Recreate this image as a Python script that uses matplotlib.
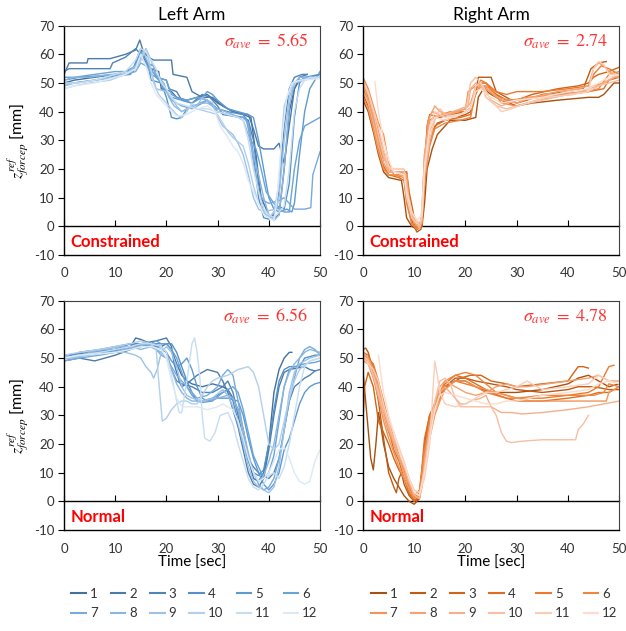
import matplotlib
matplotlib.use("Agg")
import matplotlib.pyplot as plt
from matplotlib.lines import Line2D

plt.rcParams["font.family"] = ["Lato", "DejaVu Sans"]
plt.rcParams["mathtext.fontset"] = "stix"
plt.rcParams["axes.unicode_minus"] = False

# ---------------------------------------------------------------
# data: (time [s], z_ref_forcep [mm])
# ---------------------------------------------------------------
trial_labels = [str(i) for i in range(1, 13)]

left_constrained = [
    [(0, 50), (2, 51), (6, 52), (10, 53), (12, 53), (13.5, 54), (14.5, 60), (15, 62), (16, 57), (17, 55), (18.5, 54), (19, 48), (21, 47), (22, 45), (24, 44), (26, 45), (28, 46), (30, 43), (33, 40), (35, 39), (36.5, 38), (37.5, 25), (38.5, 10), (40, 4), (41, 3), (42, 4), (43, 20), (44, 40), (45, 48), (46, 51), (48, 52), (50, 53)],
    [(0, 53), (1, 57), (4.5, 57), (4.7, 58.5), (9, 58.5), (12, 60), (14, 61.5), (14.8, 65), (15.5, 61), (16.5, 59), (17.5, 58), (21, 58), (21.3, 53), (24, 52), (25, 47), (27, 45), (29, 45), (31, 42), (33, 40), (36, 39), (37, 34), (38, 28), (39, 27), (41, 27), (42, 29), (43, 22), (44, 35), (45, 48), (46, 52), (47.5, 53)],
    [(0, 54), (1, 55), (5, 55), (9, 55), (9.5, 57), (12, 59), (14, 62), (15, 60), (16, 57), (17.5, 56), (18, 52), (20, 51), (20.5, 48), (22, 47), (23, 44), (25, 43), (27, 46), (28.5, 45), (30, 42), (31, 39), (35, 38), (36, 37), (37, 30), (38, 15), (39, 5), (40, 3), (41, 4), (42, 12), (43, 35), (44, 48), (45, 52), (46.5, 53), (47.5, 53)],
    [(0, 51), (3, 52), (7, 52.5), (10, 53), (12, 54), (13.5, 55), (14.5, 59), (15.5, 60), (16.5, 56), (17, 51), (19, 50), (20, 45), (21, 38), (22, 37.5), (23, 38), (24, 41), (26, 42), (28, 44), (30, 41), (32, 40), (35, 39), (36, 36), (37, 25), (38, 10), (39, 3), (40, 2.5), (41, 5), (42, 7), (43, 6), (44, 15), (45, 38), (46, 50), (47, 52), (50, 53)],
    [(0, 50), (2, 50), (6, 51), (10, 52.5), (13, 53), (14, 57), (15, 61), (16, 58), (17, 55), (18, 52), (19.5, 49), (20, 47), (21, 45), (23, 44), (25, 43), (27, 45), (28, 47), (29, 46), (30, 44), (32, 41), (34, 40), (36, 39), (37, 38), (38, 30), (39, 20), (40, 10), (41, 6), (42, 5), (43.5, 6), (44.5, 5), (45, 8), (46, 25), (47, 40), (48, 48), (49, 51), (50, 54)],
    [(0, 52), (2, 52), (6, 53), (10, 54), (12, 54), (14, 56), (15, 59), (16, 57), (17, 53), (18, 52), (20, 51), (21, 46), (22, 45), (24, 44), (26, 45), (28, 44), (30, 40), (32, 39), (34, 38), (35.5, 38), (36.5, 30), (37.5, 27), (38.5, 20), (39.5, 12), (41, 8), (42, 6), (43, 5), (44, 5), (45, 20), (46, 30), (47, 35), (48, 36), (50, 38)],
    [(0, 49), (2, 50), (6, 51), (10, 52), (12, 53), (14, 54), (15, 57), (16, 56), (17, 54), (18, 53), (19, 50), (20, 47), (21, 44), (23, 42), (25, 41), (26.5, 43), (28, 44), (29, 42), (30, 40), (32, 39), (35, 38), (36, 36), (37, 22), (38, 12), (39, 9), (40, 8), (42, 9), (43, 10), (44, 8), (45, 6), (47, 6), (48.2, 6.5), (48.6, 18), (49.3, 22), (50, 26)],
    [(0, 51), (2, 52), (5, 52), (9, 53), (12, 53), (14, 55), (15, 58), (16, 62), (17, 58), (18, 53), (19.5, 50), (20.5, 45), (21.5, 42), (23, 40), (25, 42), (27, 43), (28, 43), (30, 41), (33, 39), (35, 37), (36, 32), (37, 25), (38, 18), (39, 10), (40, 4), (41, 2), (42, 4), (43, 20), (44, 42), (45, 50), (46, 52), (50, 52)],
    [(0, 49), (2, 50), (6, 51), (10, 52), (12, 53), (14, 56), (15.5, 61), (16.5, 57), (17.5, 51), (18, 48), (20, 47), (21, 45), (22, 42), (23, 40), (24, 41), (26, 42), (27, 45), (28, 44), (29, 43), (30, 38), (31, 35), (33, 32), (34, 29), (35, 25), (36, 18), (37, 10), (38, 6), (39, 5), (40, 5.5), (41.5, 6), (42, 10), (43, 30), (44, 45), (45, 50), (47, 51.5), (50, 52)],
    [(0, 48), (2, 49), (5, 50), (9, 51), (12, 53), (14, 55), (15, 58), (16, 62), (17, 55), (17.5, 50), (18.5, 46), (20, 43), (21, 41), (22, 39), (23, 38), (24, 40), (25, 43), (26, 41), (28, 40), (30, 39), (31, 36), (32, 33), (33, 31), (35, 28), (36, 22), (37, 14), (38, 8), (39, 5), (40, 3), (41, 5), (42, 15), (42.5, 30), (43, 42), (44, 47), (45, 50), (47, 51), (50, 52)],
    [(0, 50), (3, 50), (6, 51), (10, 53), (12, 54), (14, 58), (15, 62), (16, 61), (17, 58), (18, 55), (19, 50), (20, 48), (21, 45), (22, 43), (24, 42), (26, 41), (28, 41), (30, 40), (32, 39), (34, 38), (35, 37), (36, 30), (37, 20), (38, 12), (39, 6), (40, 4), (41, 3), (42, 5), (43, 7), (44, 20), (45, 40), (46, 48), (47, 51), (48, 52), (50, 52)],
    [(0, 48), (2, 49), (6, 50), (10, 52), (12, 53), (14, 55), (15, 60), (16, 56), (17, 50), (18, 46), (19, 44), (20, 42), (21, 40), (22, 38.5), (24, 39), (26, 41), (28, 42), (29.5, 40), (30.5, 35), (32, 31), (33, 28), (34, 26), (35, 22), (36, 16), (37, 12), (38, 8), (39, 4), (40, 3), (41, 2), (41.5, 8), (42.5, 30), (43.5, 45), (44.5, 50), (46, 51), (50, 51.5)],
]

right_constrained = [
    [(0, 44), (1, 40), (2, 33), (3, 25), (4, 19), (5, 17), (7.5, 16), (8, 10), (8.5, 3), (9.5, 0), (10.5, -1), (11.5, 0), (12, 8), (12.5, 20), (13.5, 27), (14.5, 32), (16, 35), (17, 37), (20, 37), (22, 38), (22.5, 45), (23.5, 48), (25, 46), (27, 44), (30, 42), (33, 43), (38, 44), (44, 45), (46, 45), (47, 46), (48, 48), (49, 50), (50, 50)],
    [(0, 46), (1, 42), (2, 35), (3, 27), (4, 20), (5, 18), (8, 18), (8.5, 10), (9.5, 2), (10.5, -2), (11.3, -1), (12, 15), (12.5, 25), (13.5, 33), (14.5, 36), (16, 37), (18, 38), (20, 39), (21, 40), (22, 47), (22.5, 52), (25, 52), (26, 47), (28, 45), (30, 43), (32, 44), (35, 46), (40, 47), (43, 48), (44.5, 55), (46, 57), (47.5, 57.5)],
    [(0, 48), (1, 44), (2, 38), (3, 30), (4, 22), (5, 19), (8.5, 19), (9, 12), (10, 3), (10.5, 0), (11.5, 0), (12, 20), (12.5, 35), (13, 39), (15, 38), (17, 39), (20, 40), (21, 41), (22, 48), (23, 50), (24, 50), (26, 46), (28, 44), (30, 44), (33, 46), (38, 48), (42, 49), (44, 50), (45, 52), (46, 53), (48, 54), (50, 55.5)],
    [(0, 50), (1, 45), (2, 36), (3, 28), (4, 21), (5, 18), (7, 17), (8, 16), (8.5, 9), (9.5, 1), (10.5, -1), (11.5, 1), (12, 18), (13, 30), (14, 35), (16, 37), (19, 38), (21, 39), (21.5, 44), (22.5, 48), (24, 49), (26, 46), (28, 44), (30, 44), (34, 45), (40, 46), (44, 47), (47, 48), (48, 51), (50, 52)],
    [(0, 51), (1, 47), (2, 40), (3, 33), (4, 26), (5, 20), (6, 19), (8.5, 19), (9, 10), (10, 0), (11, -1), (11.5, 5), (12, 25), (13, 37), (14, 38), (17, 40), (20, 40), (21.5, 42), (22, 48), (23, 51), (24, 50), (26, 47), (28, 46), (30, 47), (35, 47), (40, 48), (44, 49), (45, 53), (46.5, 56), (48, 55), (50, 53)],
    [(0, 52), (1, 48), (2, 42), (3, 36), (4, 32), (5, 22), (6, 18), (8, 17), (8.5, 8), (9.5, 1), (10.5, -1), (11.5, 1), (12, 15), (13, 28), (14, 34), (16, 36), (19, 37), (20, 37.5), (21, 38), (22, 47), (23, 49), (25, 48), (27, 43), (30, 42), (34, 44), (40, 46), (44, 47), (46, 48), (48, 53), (50, 54)],
    [(0, 45), (1, 41), (2, 34), (3, 26), (4, 20), (5, 18), (8, 18), (8.5, 12), (9.5, 3), (10.5, 0), (11.5, 2), (12, 22), (12.7, 37), (13.5, 40), (15, 39), (18, 40), (20, 41), (20.5, 47), (22, 49), (24, 48), (26, 45), (29, 44), (32, 45), (38, 46), (43, 47), (45, 49), (47, 50), (49, 52), (50, 52)],
    [(0, 49), (1, 44), (2, 38), (3, 30), (4, 24), (5, 20), (6, 19), (8.5, 18), (9, 8), (10, 1), (11, 0), (11.5, 3), (12, 25), (13, 38), (14, 42), (15, 40), (17, 39), (20, 41), (21, 43), (22, 49), (24, 49), (25.5, 46), (27, 44), (30, 43), (33, 45), (38, 47), (42, 48), (44, 49), (45, 55), (46, 57), (47, 56), (48, 54), (50, 52)],
    [(0, 47), (1, 43), (2, 36), (3, 28), (4, 22), (5, 19), (8, 19), (8.5, 12), (9.5, 4), (10.5, 1), (11, -1), (11.5, 2), (12, 20), (13, 33), (14, 38), (16, 39), (19, 41), (20.5, 42), (21, 48), (22, 50), (24, 47), (25, 44), (27, 42), (30, 44), (35, 45), (41, 46), (44, 48), (46, 49), (48, 51), (50, 53)],
    [(0, 50), (1, 46), (2, 40), (3, 32), (4, 25), (5, 20), (8, 20), (8.5, 14), (9.5, 5), (10.5, 2), (11, 0), (11.5, 3), (12, 18), (13, 30), (14, 37), (15, 41), (16, 39), (18, 38), (20, 40), (21, 50), (22, 52), (23, 50), (24, 45), (26, 42), (28, 41), (30, 42), (35, 44), (40, 46), (44, 47), (46, 49), (48, 50), (50, 51)],
    [(0, 51), (1, 47), (2, 41), (3, 35), (4, 27), (5, 21), (6, 19), (8, 18), (8.5, 10), (9.5, 3), (10.5, 1), (11.3, 2), (12, 22), (13, 35), (14, 40), (16, 38), (19, 39), (21, 41), (22, 49), (23, 50), (25, 44), (27, 40), (29, 41), (32, 43), (36, 45), (41, 46), (44, 47), (45, 55), (46, 57.5), (47, 56.5), (48, 53), (50, 53)],
    [(2.3, 50.5), (3, 40), (4, 30), (5, 23), (6, 19), (8, 18), (8.5, 12), (9.5, 5), (10.5, 2), (11.5, 4), (12, 20), (13, 34), (14, 38), (16, 37), (19, 39), (21, 41), (22, 47), (23, 48), (24, 46), (25, 45), (27, 43), (30, 44), (35, 45), (40, 47), (44, 48), (46, 50), (48, 52), (50, 53)],
]

left_normal = [
    [(0, 50), (3, 51), (7, 52), (10, 53), (13, 54), (14, 57), (15, 56.5), (17, 55), (19, 54), (20, 55), (21, 53), (22, 48), (23, 44), (24, 42), (25, 41), (27, 40), (29, 41), (31, 40), (32, 39), (33, 36), (34, 32), (35, 25), (36, 15), (37, 8), (38, 7), (39, 10), (40, 20), (41, 38), (42, 46), (43, 50), (44, 52), (44.5, 52)],
    [(0, 49), (3, 50), (6, 49), (10, 51), (13, 53), (15, 55), (18, 56), (20, 57), (21, 54), (21.5, 48), (22.5, 42), (23, 40), (24, 41), (26, 44), (28, 46), (30, 45), (31, 42), (32, 38), (33, 32), (34, 26), (35, 18), (36, 10), (37, 6), (38, 5), (39, 8), (40, 18), (41, 30), (42, 40), (43, 45), (44, 46), (47, 47), (48, 46), (49, 45.5)],
    [(0, 51), (3, 51.5), (7, 52.5), (10, 53), (13, 55), (15, 55), (17, 54), (19, 54), (20, 52), (21, 46), (22, 42), (23, 41), (25, 40), (27, 38), (29, 38), (31, 40), (32, 42), (33, 38), (34, 30), (35, 22), (36, 15), (37, 12), (38, 10), (39, 9), (40, 8), (41, 10), (42, 15), (43, 25), (44, 35), (45, 40), (47, 43), (48, 44), (49, 45.5), (50, 46)],
    [(0, 50), (3, 52), (7, 53), (10, 54), (13, 55), (15, 54), (18, 55), (20, 55), (21, 55), (22, 52), (23, 47), (24, 42), (25, 38), (26, 35), (27, 35), (29, 36), (31, 38), (32, 39), (33, 35), (34, 28), (35, 20), (36, 14), (37, 10), (38, 9), (39, 11), (40, 20), (41, 32), (42, 42), (43, 46), (44, 47), (46, 47), (47, 50), (49, 51), (50, 51)],
    [(0, 50), (3, 51), (7, 52), (10, 52.5), (13, 54), (15, 55), (17, 55), (19, 53), (20, 52), (21, 49), (22, 47), (23, 48), (24, 50), (25, 46), (26, 40), (27, 36), (28, 35), (30, 36), (32, 36), (34, 35), (35, 30), (36, 22), (37, 15), (38, 10), (39, 6), (40, 4), (41, 6), (42, 10), (43, 18), (44, 22), (45, 28), (46, 34), (47, 38), (48, 40), (49, 41), (50, 41.5)],
    [(0, 50), (3, 51), (7, 52), (10, 52), (13, 53), (15, 54), (17, 55), (18, 56), (19, 55), (20, 55), (21, 53), (22, 50), (23, 45), (24, 40), (25, 37), (26, 35), (27, 34.5), (29, 35), (31, 38), (33, 40), (34, 38), (35, 32), (36, 24), (37, 16), (38, 12), (39, 8), (40, 10), (41, 16), (42, 28), (43, 40), (44, 46), (45, 47), (47, 48), (49, 48.5), (50, 49)],
    [(0, 49), (3, 50), (7, 51), (10, 52), (12, 53), (14, 54), (16, 55), (18, 53), (19, 51), (20, 50), (21, 47), (22, 44), (23, 42), (24, 40), (25, 38), (26, 36), (28, 37), (30, 40), (31, 44), (32, 46), (33, 44), (34, 35), (35, 25), (36, 16), (37, 10), (38, 6), (39, 4), (40, 5), (41, 8), (42, 15), (43, 25), (44, 35), (45, 43), (46, 50), (47, 53), (48, 54), (49, 53), (50, 51)],
    [(0, 50), (2, 50), (5, 52), (8, 53), (11, 54), (13, 54), (15, 53), (17, 54), (19, 52), (20, 50), (21, 46), (22, 41), (23, 38), (24, 36), (25, 35), (27, 35), (30, 36), (32, 37), (33, 36), (34, 32), (35, 25), (36, 17), (37, 10), (38, 7), (39, 9), (40, 14), (41, 20), (42, 30), (43, 40), (44, 45), (45, 48), (46, 50), (47, 52), (48, 53), (50, 52)],
    [(0, 50), (3, 50.5), (7, 51.5), (10, 52), (12, 52), (14, 51), (15, 50), (16, 47), (17, 45), (17.5, 43), (18.2, 46), (19, 52), (20, 54), (21, 52), (22, 47), (23, 40), (24, 37), (25, 36), (27, 35), (29, 36), (31, 39), (32, 37), (33, 33), (34, 27), (35, 20), (36, 12), (37, 7), (38, 5), (39, 4), (40, 3), (41, 5), (42, 12), (43, 25), (44, 38), (45, 45), (46, 48), (48, 50), (50, 51)],
    [(0, 51), (3, 52), (7, 53), (10, 54), (13, 55), (15, 56), (17, 55), (18, 53), (18.6, 40), (19.2, 28), (20, 29), (21, 32), (22, 34), (23, 35), (24, 35), (25, 34), (26, 34), (27, 37), (28, 40), (29, 42), (30, 43), (32, 44), (34, 46), (36, 47), (37, 45), (38, 40), (39, 30), (40, 20), (41, 18), (42, 20), (43, 28), (44, 36), (45, 42), (46, 46), (48, 49), (50, 50)],
    [(0, 50), (3, 51), (7, 52), (10, 53), (13, 54), (15, 55), (17, 55), (19, 54), (20, 52), (21, 44), (22, 35), (22.5, 31), (23, 31), (24, 42), (25, 55), (25.5, 57), (26, 52), (26.5, 44), (27, 30), (27.5, 22), (28.5, 21), (29.5, 24), (30.5, 30), (32, 31), (33, 27), (34, 20), (35, 14), (36, 8), (37, 5), (38, 4), (39, 6), (40, 9), (41, 10), (42, 8), (43, 12), (44, 20), (45, 30), (46, 40), (47, 47), (48, 49), (50, 50)],
    [(0, 50), (3, 51), (7, 51.5), (10, 52), (13, 53), (15, 54), (17, 54), (19, 53), (20, 50), (21, 42), (22, 36), (23, 33), (24, 33), (26, 33), (28, 32), (30, 33), (31, 34), (33, 32), (34, 28), (35, 22), (36, 15), (37, 10), (38, 7), (39, 8), (40, 10), (41, 14), (42, 18), (43, 19), (44, 15), (45, 10), (46, 7), (47, 6), (48, 7), (49, 14), (50, 18)],
]

right_normal = [
    [(0, 45), (0.5, 35), (1, 25), (1.5, 15), (2, 11), (2.5, 20), (3, 31), (3.5, 26), (4, 20), (5, 12), (6, 8), (7, 5), (8, 2), (9, 0), (10, -1), (11, 1), (12, 15), (13, 28), (14, 33), (15, 36), (16, 40), (18, 42), (20, 42), (22, 40), (25, 38), (28, 38), (30, 38), (35, 39), (40, 41), (42, 43), (44, 44), (46, 42), (48, 40), (50, 41)],
    [(0, 53), (0.5, 53.5), (1, 52), (2, 45), (3, 35), (4, 22), (5, 10), (6, 5), (6.5, 3), (7, 8), (7.5, 10), (8, 6), (9, 2), (10, 0), (11, 1), (12, 20), (13, 30), (14, 34), (15, 38), (16, 40), (18, 43), (20, 43), (22, 42), (25, 41), (28, 40), (30, 39), (35, 38), (40, 39), (42, 40), (45, 40), (48, 39), (50, 39)],
    [(0, 29), (0.3, 40), (1, 45), (2, 40), (3, 28), (4, 24), (5, 20), (6, 15), (7, 11), (8, 8), (9, 3), (10, 0), (11, 2), (12, 18), (13, 30), (14, 34), (15, 38), (17, 41), (19, 43), (21, 44), (23, 44), (25, 42), (28, 41), (30, 40), (35, 41), (40, 42), (42, 47), (43, 47), (44, 46.5)],
    [(0, 52), (1, 51), (2, 47), (3, 40), (4, 32), (5, 25), (6, 18), (7, 14), (8, 8), (9, 3), (10, 0.5), (11, 2), (12, 22), (13, 30), (14, 33), (15, 37), (16, 41), (18, 44), (20, 43), (22, 41), (25, 38), (28, 36), (30, 35), (35, 35), (40, 36), (44, 37), (46, 38), (48, 38), (50, 40)],
    [(0, 51), (1, 50), (2, 48), (3, 42), (4, 35), (5, 28), (6, 22), (7, 16), (8, 10), (9, 5), (10, 1), (11, 3), (12, 14), (13, 25), (14, 32), (15, 36), (16, 40), (18, 42), (20, 41), (22, 40), (24, 38), (26, 37), (28, 36), (30, 36), (35, 36), (40, 37), (44, 38), (46, 40), (48, 47), (49, 47.5)],
    [(0, 50), (1, 49), (2, 45), (3, 38), (4, 30), (5, 24), (6, 20), (7, 15), (8, 11), (9, 5), (10, 2), (11, 4), (12, 18), (13, 28), (14, 34), (15, 38), (16, 42), (18, 44), (20, 45), (22, 44), (24, 41), (26, 38), (28, 37), (30, 36), (35, 37), (40, 37), (45, 37), (47, 38), (48, 41), (50, 40)],
    [(0, 49), (1, 48), (2, 43), (3, 36), (4, 28), (5, 22), (6, 17), (7, 12), (8, 8), (9, 4), (10, 1), (11, 2), (12, 12), (13, 22), (14, 30), (15, 35), (16, 39), (18, 42), (20, 42), (22, 40), (24, 39), (26, 38), (28, 37), (30, 36), (33, 35), (36, 35), (40, 35), (45, 35), (47.5, 35), (48, 38), (50, 40)],
    [(0, 52), (1, 50), (2, 46), (3, 40), (4, 33), (5, 26), (6, 20), (7, 15), (8, 10), (9, 6), (10, 2), (11, 1), (11.5, 5), (12, 15), (13, 26), (14, 34), (15, 40), (16, 42), (18, 40), (20, 38), (22, 37), (24, 38), (26, 40), (28, 41), (30, 40), (32, 40), (36, 41), (40, 42), (44, 43), (46, 44), (48, 42), (50, 42)],
    [(0, 50), (1, 48), (2, 44), (3, 37), (4, 30), (5, 25), (6, 21), (7, 16), (8, 12), (9, 7), (10, 2), (11, 1), (12, 10), (13, 22), (14, 32), (15, 38), (16, 40), (18, 36), (19, 34), (20, 34), (21, 35), (23, 36), (24, 37), (25, 33), (27, 31), (29, 31), (31, 30.5), (35, 31), (40, 32), (44, 33), (47, 34), (50, 35)],
    [(0, 51), (1, 49), (2, 44), (3, 38), (4, 32), (5, 27), (6, 22), (7, 18), (8, 13), (9, 8), (10, 3), (11, 2), (12, 12), (13, 25), (14, 35), (15, 42), (16, 43), (17, 41), (18, 36), (19, 33), (20, 33), (22, 33), (24, 33), (25, 33), (26, 30), (27, 24), (28, 21), (29, 20.5), (31, 21), (35, 21.5), (40, 21.5), (41.5, 21.5), (42, 25), (43, 27), (44, 30)],
    [(0, 50), (1, 48), (2, 46), (3, 42), (4, 34), (5, 28), (6, 24), (7, 19), (8, 14), (9, 8), (10, 4), (11, 3), (12, 8), (13, 20), (14, 49), (14.5, 44), (15, 38), (16, 34), (18, 33), (20, 34), (22, 36), (24, 38), (26, 38), (28, 39), (30, 40), (32, 42), (35, 39), (40, 40), (44, 41), (46, 44), (48, 42)],
    [(3, 51), (3.5, 44), (4, 38), (5, 30), (6, 24), (7, 18), (8, 13), (9, 8), (10, 3), (11, 2), (12, 10), (13, 22), (14, 32), (15, 37), (16, 38), (18, 37), (20, 36), (22, 35), (24, 34), (26, 34), (28, 35), (30, 35), (35, 37), (40, 38), (44, 39), (46, 41), (48, 42), (50, 41)],
]

sigma_values = {"lc": "5.65", "rc": "2.74", "ln": "6.56", "rn": "4.78"}

BLUES = ["#41719C", "#4A7BAB", "#4F84B8", "#5690C6", "#5E9AD2", "#6AA3D8",
         "#78ABDB", "#8AB6E0", "#9DC2E5", "#B2CFEB", "#C7DDF1", "#DCE9F6"]
ORANGES = ["#A8500F", "#BE5A13", "#D06417", "#E06E20", "#EC7A2E", "#EF8640",
           "#F19456", "#F3A270", "#F5B08A", "#F7BFA2", "#F9CDB6", "#FBDCCD"]

RED = "#FF0000"
TICK_COLOR = "#333333"


def draw_panel(ax, series, colors, sigma, tag, show_xlabel, show_ylabel):
    for pts, c in zip(series, colors):
        t = [p[0] for p in pts]
        z = [p[1] for p in pts]
        ax.plot(t, z, color=c, lw=1.0)

    ax.set_xlim(0, 50)
    ax.set_ylim(-10, 70)
    ax.set_xticks(range(0, 51, 10))
    ax.set_yticks(range(-10, 71, 10))
    ax.tick_params(axis="x", length=0, pad=9, labelsize=9.5, labelcolor=TICK_COLOR)
    ax.tick_params(axis="y", length=4, width=0.8, pad=3, labelsize=9.5,
                   labelcolor=TICK_COLOR, direction="out")

    for side in ("left", "bottom"):
        ax.spines[side].set_color("black")
        ax.spines[side].set_linewidth(1.0)
    for side in ("top", "right"):
        ax.spines[side].set_color("#404040")
        ax.spines[side].set_linewidth(0.8)

    # horizontal axis line crossing at z = 0 with upward ticks
    zero = ax.secondary_xaxis((0 - (-10)) / 80)
    zero.set_xticks(range(0, 51, 10))
    zero.tick_params(axis="x", direction="in", length=4, width=0.8,
                     labelbottom=False, color="black")
    zero.spines["bottom"].set_color("black")
    zero.spines["bottom"].set_linewidth(1.0)

    ax.text(0.955, 0.93, r"$\sigma_{ave}\;=\;" + sigma + "$", transform=ax.transAxes,
            ha="right", va="center", color="#FF3333", fontsize=13)
    ax.text(0.025, 0.058, tag, transform=ax.transAxes, ha="left", va="center",
            color=RED, fontsize=12, fontweight="bold")

    if show_xlabel:
        ax.set_xlabel("Time [sec]", fontsize=11, labelpad=1)
    if show_ylabel:
        ax.set_ylabel(r"$z_{forcep}^{ref}$ [mm]", fontsize=11.5, labelpad=2)


fig = plt.figure(figsize=(6.26, 6.31), dpi=100)
W, H = 0.409, 0.3634
ax_lc = fig.add_axes([0.1022, 0.5959, W, H])
ax_rc = fig.add_axes([0.580, 0.5959, W, H])
ax_ln = fig.add_axes([0.1022, 0.160, W, H])
ax_rn = fig.add_axes([0.580, 0.160, W, H])

draw_panel(ax_lc, left_constrained, BLUES, sigma_values["lc"], "Constrained", False, True)
draw_panel(ax_rc, right_constrained, ORANGES, sigma_values["rc"], "Constrained", False, False)
draw_panel(ax_ln, left_normal, BLUES, sigma_values["ln"], "Normal", True, True)
draw_panel(ax_rn, right_normal, ORANGES, sigma_values["rn"], "Normal", True, False)

ax_lc.set_title("Left Arm", fontsize=12.5, pad=4)
ax_rc.set_title("Right Arm", fontsize=12.5, pad=4)


def add_legend(x0, colors):
    handles = [Line2D([], [], color=c, lw=1.5) for c in colors]
    # reorder so entries fill row by row (1..6 on top, 7..12 below)
    order = [i + 6 * r for i in range(6) for r in range(2)]
    fig.legend([handles[k] for k in order], [trial_labels[k] for k in order],
               loc="upper left", bbox_to_anchor=(x0, 0.068), ncol=6,
               frameon=False, fontsize=9.5, handlelength=1.1, handletextpad=0.3,
               columnspacing=1.0, borderpad=0, borderaxespad=0, labelspacing=0.55,
               labelcolor=TICK_COLOR)


add_legend(0.114, BLUES)
add_legend(0.593, ORANGES)

fig.savefig("out.png", dpi=100)
